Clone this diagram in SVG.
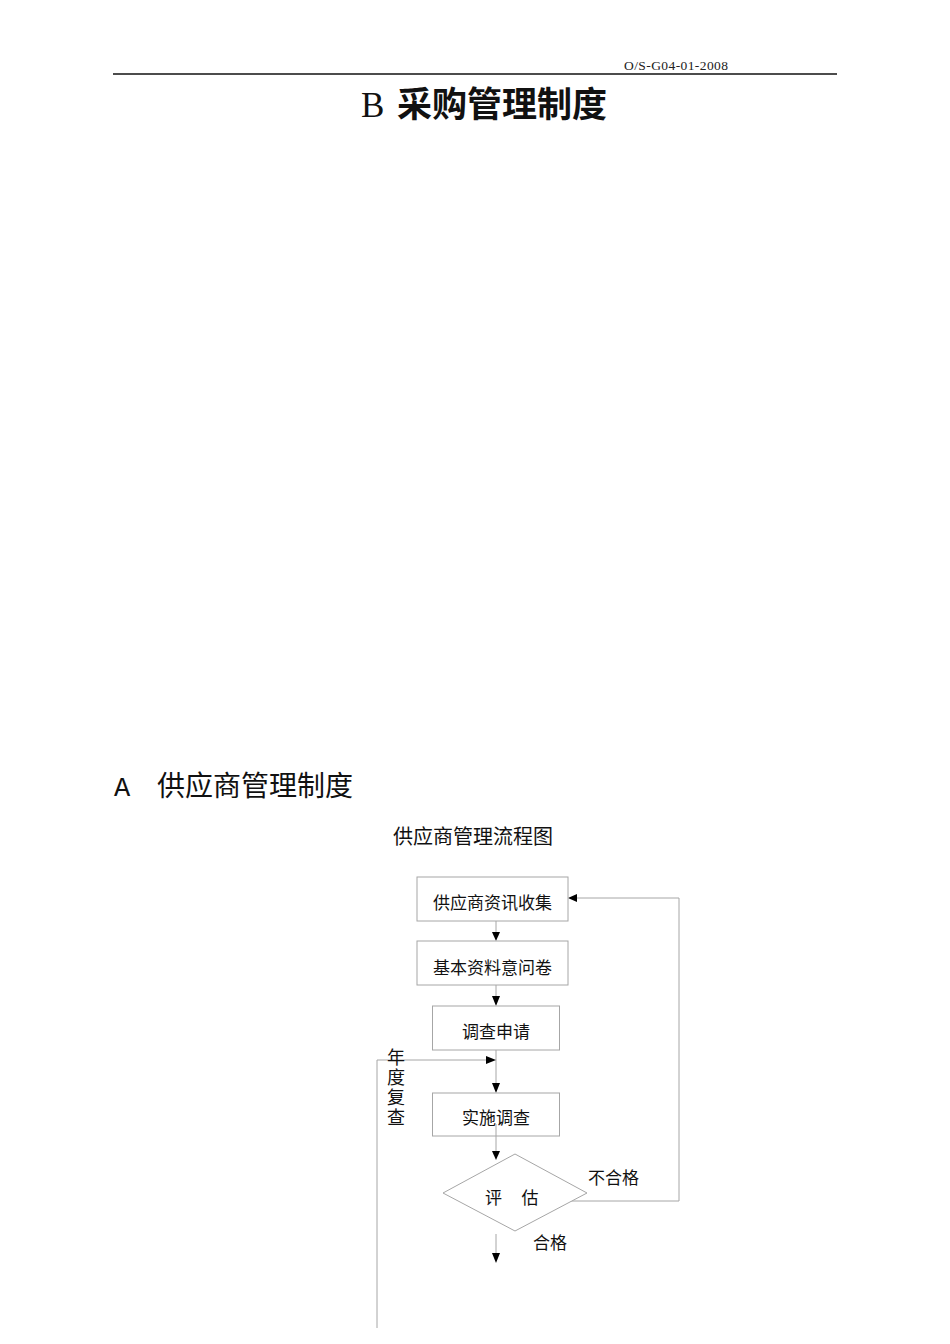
<svg xmlns="http://www.w3.org/2000/svg" width="950" height="1344" viewBox="0 0 950 1344">
<style>
.cjk{font-family:"Noto Sans CJK SC","Noto Sans",sans-serif;fill:#111}
.box{fill:#fff;stroke:#a6a6a6;stroke-width:1}
.lbl{font-size:17px}
.con{fill:none;stroke:#a6a6a6;stroke-width:1}
.head{fill:#000}
</style>
<rect width="950" height="1344" fill="#fff"/>
<g id="header">
<text x="624" y="70" font-family="Liberation Serif,serif" font-size="13.5" fill="#222" textLength="104">O/S-G04-01-2008</text>
<line x1="113" y1="74" x2="837" y2="74" stroke="#111" stroke-width="1.6"/>
</g>
<g id="title">
<text y="117"><tspan x="361" font-family="Liberation Serif,serif" font-size="35" fill="#111">B</tspan><tspan x="397" class="cjk" font-size="35" font-weight="700">采购管理制度</tspan></text>
</g>
<g id="section">
<text y="796"><tspan x="114" font-family="Liberation Mono,monospace" font-size="27" fill="#111">A</tspan><tspan x="157" class="cjk" font-size="28">供应商管理制度</tspan></text>
</g>
<text x="393" y="844" class="cjk" font-size="20">供应商管理流程图</text>
<g id="connectors">
<line class="con" x1="496" y1="921" x2="496" y2="932"/>
<polygon class="head" points="492,932 500,932 496,941"/>
<line class="con" x1="496" y1="985" x2="496" y2="996"/>
<polygon class="head" points="492,996 500,996 496,1006"/>
<line class="con" x1="496" y1="1050" x2="496" y2="1083"/>
<polygon class="head" points="492,1083 500,1083 496,1093"/>
<polyline class="con" points="377,1328 377,1060 486,1060"/>
<polygon class="head" points="486,1056 486,1064 496,1060"/>
<line class="con" x1="496" y1="1124" x2="496" y2="1151"/>
<polygon class="head" points="492,1151 500,1151 496,1160"/>
<polyline class="con" points="552,1201 679,1201 679,898 577,898"/>
<polygon class="head" points="577,894 577,902 568,898"/>
<line class="con" x1="496" y1="1234" x2="496" y2="1253"/>
<polygon class="head" points="492,1253 500,1253 496,1263"/>
</g>
<g id="n1"><rect class="box" x="417" y="877" width="151" height="44"/><text x="492.5" y="908.5" class="cjk lbl" text-anchor="middle">供应商资讯收集</text></g>
<g id="n2"><rect class="box" x="417" y="941" width="151" height="44"/><text x="492.5" y="973.5" class="cjk lbl" text-anchor="middle">基本资料意问卷</text></g>
<g id="n3"><rect class="box" x="432.5" y="1006" width="127" height="44"/><text x="496" y="1038" class="cjk lbl" text-anchor="middle">调查申请</text></g>
<g id="n4"><rect class="box" x="432.5" y="1093" width="127" height="43"/><text x="496" y="1124" class="cjk lbl" text-anchor="middle">实施调查</text></g>
<line class="con" x1="496" y1="1124" x2="496" y2="1136"/>
<g id="n5"><polygon class="box" points="443,1193 515,1154 587,1193 515,1231"/><text y="1204" class="cjk lbl"><tspan x="485">评</tspan><tspan x="521.5">估</tspan></text></g>
<g id="labels">
<text x="588" y="1184" class="cjk lbl">不合格</text>
<text x="533" y="1249" class="cjk lbl">合格</text>
<text x="396" y="1048" class="cjk" font-size="18" writing-mode="vertical-rl" letter-spacing="2">年度复查</text>
</g>
</svg>
